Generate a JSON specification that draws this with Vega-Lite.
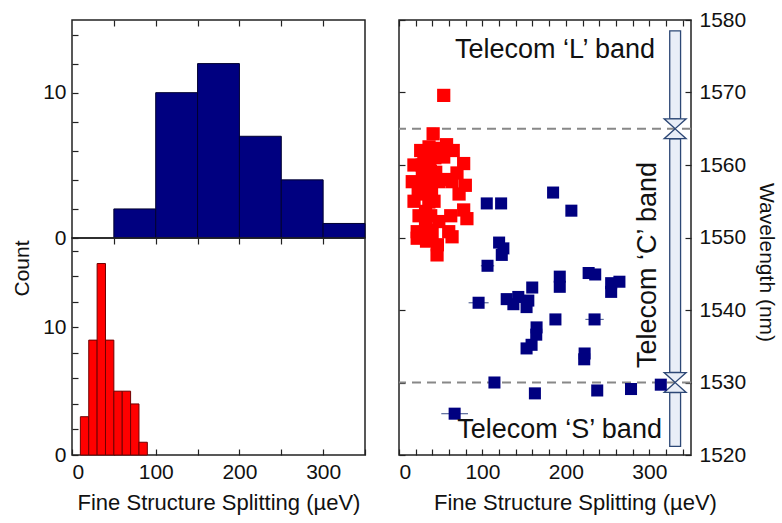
{
  "$schema": "https://vega.github.io/schema/vega-lite/v6.json",
  "background": "white",
  "padding": {"left": 10, "top": 8, "right": 5, "bottom": 5},
  "config": {
    "font": "Liberation Sans",
    "view": {"stroke": "#222", "strokeWidth": 1.5},
    "axis": {
      "labelFont": "Liberation Sans", "labelFontSize": 21, "labelColor": "#111",
      "titleFont": "Liberation Sans", "titleFontSize": 21, "titleFontWeight": "normal", "titleColor": "#111",
      "domain": false, "grid": false, "tickColor": "#222", "tickWidth": 1.2, "tickSize": -6, "labelPadding": 12
    }
  },
  "datasets": {
    "blueHist": [
      {"lo": 50, "hi": 100, "n": 2}, {"lo": 100, "hi": 150, "n": 10}, {"lo": 150, "hi": 200, "n": 12},
      {"lo": 200, "hi": 250, "n": 7}, {"lo": 250, "hi": 300, "n": 4}, {"lo": 300, "hi": 350, "n": 1}
    ],
    "redHist": [
      {"lo": 10, "hi": 20, "n": 3}, {"lo": 20, "hi": 30, "n": 9}, {"lo": 30, "hi": 40, "n": 15},
      {"lo": 40, "hi": 50, "n": 9}, {"lo": 50, "hi": 60, "n": 5}, {"lo": 60, "hi": 70, "n": 5},
      {"lo": 70, "hi": 80, "n": 4}, {"lo": 80, "hi": 90, "n": 1}
    ],
    "dots": [
      {"fss": 15.9, "wl": 1557.7, "grp": "red"}, {"fss": 17.9, "wl": 1560.0, "grp": "red"}, {"fss": 18.0, "wl": 1555.0, "grp": "red"},
      {"fss": 21.8, "wl": 1550.8, "grp": "red"}, {"fss": 21.8, "wl": 1549.9, "grp": "red"}, {"fss": 25.8, "wl": 1557.5, "grp": "red"},
      {"fss": 27.8, "wl": 1560.0, "grp": "red"}, {"fss": 29.8, "wl": 1561.4, "grp": "red"}, {"fss": 24.0, "wl": 1553.0, "grp": "red"},
      {"fss": 28.0, "wl": 1558.5, "grp": "red"}, {"fss": 26.0, "wl": 1562.0, "grp": "red"}, {"fss": 23.0, "wl": 1556.0, "grp": "red"},
      {"fss": 31.8, "wl": 1553.6, "grp": "red"}, {"fss": 31.8, "wl": 1551.7, "grp": "red"}, {"fss": 33.8, "wl": 1556.1, "grp": "red"},
      {"fss": 35.8, "wl": 1554.9, "grp": "red"}, {"fss": 37.7, "wl": 1559.1, "grp": "red"}, {"fss": 39.7, "wl": 1561.8, "grp": "red"},
      {"fss": 39.7, "wl": 1550.6, "grp": "red"}, {"fss": 34.0, "wl": 1558.0, "grp": "red"}, {"fss": 36.0, "wl": 1562.5, "grp": "red"},
      {"fss": 32.0, "wl": 1557.0, "grp": "red"}, {"fss": 38.0, "wl": 1553.0, "grp": "red"}, {"fss": 33.0, "wl": 1549.5, "grp": "red"},
      {"fss": 37.0, "wl": 1560.5, "grp": "red"}, {"fss": 35.0, "wl": 1551.0, "grp": "red"}, {"fss": 39.0, "wl": 1556.5, "grp": "red"},
      {"fss": 40.9, "wl": 1564.3, "grp": "red"}, {"fss": 45.6, "wl": 1547.6, "grp": "red"}, {"fss": 47.7, "wl": 1552.2, "grp": "red"},
      {"fss": 47.7, "wl": 1557.7, "grp": "red"}, {"fss": 49.7, "wl": 1562.3, "grp": "red"}, {"fss": 44.0, "wl": 1559.0, "grp": "red"},
      {"fss": 42.0, "wl": 1555.0, "grp": "red"}, {"fss": 46.0, "wl": 1549.0, "grp": "red"}, {"fss": 43.0, "wl": 1561.0, "grp": "red"},
      {"fss": 53.6, "wl": 1569.6, "grp": "red"}, {"fss": 53.6, "wl": 1561.1, "grp": "red"}, {"fss": 59.6, "wl": 1550.8, "grp": "red"},
      {"fss": 55.0, "wl": 1558.0, "grp": "red"}, {"fss": 57.0, "wl": 1562.8, "grp": "red"},
      {"fss": 63.6, "wl": 1557.7, "grp": "red"}, {"fss": 63.6, "wl": 1550.1, "grp": "red"}, {"fss": 69.5, "wl": 1558.9, "grp": "red"},
      {"fss": 65.0, "wl": 1562.0, "grp": "red"}, {"fss": 62.0, "wl": 1553.0, "grp": "red"},
      {"fss": 77.5, "wl": 1560.2, "grp": "red"}, {"fss": 77.5, "wl": 1553.8, "grp": "red"}, {"fss": 79.5, "wl": 1557.2, "grp": "red"},
      {"fss": 72.0, "wl": 1556.0, "grp": "red"}, {"fss": 81.4, "wl": 1552.6, "grp": "red"},
      {"fss": 105.2, "wl": 1554.7, "grp": "blue"}, {"fss": 122.4, "wl": 1554.7, "grp": "blue"}, {"fss": 184.7, "wl": 1556.2, "grp": "blue"},
      {"fss": 206.6, "wl": 1553.7, "grp": "blue"}, {"fss": 120.0, "wl": 1549.3, "grp": "blue"}, {"fss": 125.1, "wl": 1548.5, "grp": "blue"},
      {"fss": 123.2, "wl": 1547.6, "grp": "blue"}, {"fss": 106.1, "wl": 1546.1, "grp": "blue"}, {"fss": 192.7, "wl": 1544.6, "grp": "blue"},
      {"fss": 192.7, "wl": 1543.2, "grp": "blue"}, {"fss": 227.3, "wl": 1545.1, "grp": "blue"}, {"fss": 235.2, "wl": 1544.9, "grp": "blue"},
      {"fss": 254.3, "wl": 1543.7, "grp": "blue"}, {"fss": 264.2, "wl": 1543.9, "grp": "blue"}, {"fss": 254.3, "wl": 1542.5, "grp": "blue"},
      {"fss": 159.7, "wl": 1543.1, "grp": "blue"}, {"fss": 95.4, "wl": 1541.0, "grp": "blue"}, {"fss": 129.1, "wl": 1541.5, "grp": "blue"},
      {"fss": 143.0, "wl": 1541.8, "grp": "blue"}, {"fss": 137.1, "wl": 1540.8, "grp": "blue"}, {"fss": 152.9, "wl": 1540.4, "grp": "blue"},
      {"fss": 155.0, "wl": 1541.3, "grp": "blue"}, {"fss": 187.5, "wl": 1538.7, "grp": "blue"}, {"fss": 234.4, "wl": 1538.7, "grp": "blue"},
      {"fss": 164.9, "wl": 1537.6, "grp": "blue"}, {"fss": 164.5, "wl": 1536.6, "grp": "blue"}, {"fss": 158.9, "wl": 1535.2, "grp": "blue"},
      {"fss": 152.9, "wl": 1534.7, "grp": "blue"}, {"fss": 222.5, "wl": 1534.0, "grp": "blue"}, {"fss": 222.0, "wl": 1533.2, "grp": "blue"},
      {"fss": 114.4, "wl": 1530.0, "grp": "blue"}, {"fss": 162.9, "wl": 1528.5, "grp": "blue"}, {"fss": 237.6, "wl": 1528.9, "grp": "blue"},
      {"fss": 278.1, "wl": 1529.1, "grp": "blue"}, {"fss": 313.8, "wl": 1529.7, "grp": "blue"}, {"fss": 66.7, "wl": 1525.7, "grp": "blue"}
    ],
    "errs": [
      {"lo": 47.6, "hi": 59.6, "wl": 1569.6}, {"lo": 98.1, "hi": 114.1, "wl": 1546.1}, {"lo": 83.4, "hi": 107.4, "wl": 1541.0},
      {"lo": 146.9, "hi": 158.9, "wl": 1540.4}, {"lo": 223.4, "hi": 245.4, "wl": 1538.7}, {"lo": 50.7, "hi": 82.7, "wl": 1525.7},
      {"lo": 110.4, "hi": 118.4, "wl": 1530.0}, {"lo": 308.8, "hi": 318.8, "wl": 1529.7}, {"lo": 73.5, "hi": 81.5, "wl": 1553.8}
    ],
    "bands": [{"wl": 1565}, {"wl": 1530}],
    "shafts": [{"wl_lo": 1566.4, "wl_hi": 1578.5}, {"wl_lo": 1531.4, "wl_hi": 1563.6}, {"wl_lo": 1521.2, "wl_hi": 1528.6}],
    "heads": [{"wl": 1565, "dir": "down"}, {"wl": 1565, "dir": "up"}, {"wl": 1530, "dir": "down"}, {"wl": 1530, "dir": "up"}],
    "one": [{"k": 1}]
  },
  "spacing": 30,
  "hconcat": [
    {
      "spacing": 0,
      "bounds": "flush",
      "vconcat": [
        {
          "width": 293, "height": 218,
          "data": {"name": "blueHist"},
          "mark": {"type": "rect", "fill": "#000080", "stroke": "#000030", "strokeWidth": 1},
          "encoding": {
            "x": {"field": "lo", "type": "quantitative", "scale": {"domain": [0, 350], "nice": false, "zero": false},
                  "axis": {"orient": "top", "values": [50, 100, 150, 200, 250, 300], "labels": false, "title": null}},
            "x2": {"field": "hi"},
            "y": {"field": "n", "type": "quantitative", "scale": {"domain": [0, 15], "nice": false},
                  "axis": {"orient": "left", "values": [0, 2, 4, 6, 8, 10, 12, 14], "labelExpr": "datum.value % 10 === 0 ? datum.label : ''", "title": null}},
            "y2": {"datum": 0}
          }
        },
        {
          "width": 293, "height": 217,
          "data": {"name": "redHist"},
          "resolve": {"axis": {"x": "independent", "y": "independent"}},
          "layer": [
            {
              "mark": {"type": "rect", "fill": "#ff0000", "stroke": "#700000", "strokeWidth": 1},
              "encoding": {
                "x": {"field": "lo", "type": "quantitative", "scale": {"domain": [0, 350], "nice": false, "zero": false},
                      "axis": {"orient": "bottom", "values": [0, 50, 100, 150, 200, 250, 300, 350], "labelExpr": "datum.value % 100 === 0 ? datum.label : ''", "title": "Fine Structure Splitting (µeV)", "titleFontSize": 22, "titlePadding": 10}},
                "x2": {"field": "hi"},
                "y": {"field": "n", "type": "quantitative", "scale": {"domain": [0, 17], "nice": false},
                      "axis": {"orient": "left", "values": [0, 2, 4, 6, 8, 10, 12, 14, 16], "labelExpr": "datum.value % 10 === 0 ? datum.label : ''", "title": "Count", "titleY": 30, "titlePadding": 10}},
                "y2": {"datum": 0}
              }
            },
            {
              "mark": {"type": "rect", "opacity": 0},
              "encoding": {
                "x": {"field": "lo", "type": "quantitative",
                      "axis": {"orient": "top", "values": [50, 100, 150, 200, 250, 300], "labels": false, "title": null}},
                "x2": {"field": "hi"},
                "y": {"field": "n", "type": "quantitative", "axis": null},
                "y2": {"datum": 0}
              }
            }
          ]
        }
      ]
    },
    {
      "width": 292, "height": 435,
      "resolve": {"axis": {"x": "independent", "y": "independent"}},
      "layer": [
        {
          "data": {"name": "bands"},
          "mark": {"type": "rule", "color": "#888", "strokeWidth": 2, "strokeDash": [9, 6]},
          "encoding": {"y": {"field": "wl", "type": "quantitative", "axis": null}}
        },
        {
          "data": {"name": "shafts"},
          "mark": {"type": "rect", "fill": "#e9eef7", "stroke": "#2d4876", "strokeWidth": 1.3},
          "encoding": {
            "x": {"datum": 324.5, "type": "quantitative", "axis": null},
            "x2": {"datum": 337.5},
            "y": {"field": "wl_lo", "type": "quantitative", "axis": null},
            "y2": {"field": "wl_hi"}
          }
        },
        {
          "data": {"name": "heads"},
          "mark": {"type": "point", "filled": true, "fill": "#e9eef7", "stroke": "#2d4876", "strokeWidth": 1.3, "opacity": 1, "size": 484},
          "encoding": {
            "x": {"datum": 331, "type": "quantitative", "axis": null},
            "y": {"field": "wl", "type": "quantitative", "axis": null},
            "shape": {"field": "dir", "type": "nominal", "legend": null,
                      "scale": {"domain": ["down", "up"], "range": ["M0,0L-1,-0.9L1,-0.9Z", "M0,0L-1,0.9L1,0.9Z"]}}
          }
        },
        {
          "data": {"name": "errs"},
          "mark": {"type": "rule", "color": "#5a6a9a", "strokeWidth": 1.2},
          "encoding": {
            "x": {"field": "lo", "type": "quantitative", "axis": null},
            "x2": {"field": "hi"},
            "y": {"field": "wl", "type": "quantitative", "axis": null}
          }
        },
        {
          "data": {"name": "dots"},
          "mark": {"type": "square", "opacity": 1},
          "encoding": {
            "x": {"field": "fss", "type": "quantitative", "scale": {"domain": [0, 350], "nice": false, "zero": false},
                  "axis": {"orient": "bottom", "values": [0, 20, 40, 60, 80, 100, 120, 140, 160, 180, 200, 220, 240, 260, 280, 300, 320, 340], "labelExpr": "datum.value % 100 === 0 ? datum.label : ''", "title": "Fine Structure Splitting (µeV)", "titleFontSize": 22, "titlePadding": 10, "titleX": 176}},
            "y": {"field": "wl", "type": "quantitative", "scale": {"domain": [1520, 1580], "nice": false, "zero": false},
                  "axis": {"orient": "right", "values": [1520, 1530, 1540, 1550, 1560, 1570, 1580], "format": "d", "title": "Wavelength (nm)", "titlePadding": 10, "titleY": 242, "labelPadding": 14}},
            "color": {"field": "grp", "type": "nominal", "legend": null, "scale": {"domain": ["red", "blue"], "range": ["#ff0000", "#000080"]}},
            "size": {"field": "grp", "type": "nominal", "legend": null, "scale": {"domain": ["red", "blue"], "range": [175, 145]}}
          }
        },
        {
          "data": {"name": "dots"},
          "mark": {"type": "square", "opacity": 0},
          "encoding": {
            "x": {"field": "fss", "type": "quantitative",
                  "axis": {"orient": "top", "values": [0, 20, 40, 60, 80, 100, 120, 140, 160, 180, 200, 220, 240, 260, 280, 300, 320, 340], "labels": false, "title": null}},
            "y": {"field": "wl", "type": "quantitative",
                  "axis": {"orient": "left", "values": [1520, 1530, 1540, 1550, 1560, 1570, 1580], "labels": false, "title": null}}
          }
        },
        {
          "data": {"name": "one"},
          "mark": {"type": "text", "text": "Telecom ‘L’ band", "fontSize": 27, "font": "Liberation Sans", "color": "#111", "align": "center", "baseline": "middle"},
          "encoding": {"x": {"datum": 187, "type": "quantitative", "axis": null}, "y": {"datum": 1575.9, "type": "quantitative", "axis": null}}
        },
        {
          "data": {"name": "one"},
          "mark": {"type": "text", "text": "Telecom ‘S’ band", "fontSize": 27, "font": "Liberation Sans", "color": "#111", "align": "center", "baseline": "middle"},
          "encoding": {"x": {"datum": 192.5, "type": "quantitative", "axis": null}, "y": {"datum": 1523.4, "type": "quantitative", "axis": null}}
        },
        {
          "data": {"name": "one"},
          "mark": {"type": "text", "text": "Telecom ‘C’ band", "fontSize": 27, "font": "Liberation Sans", "color": "#111", "align": "center", "baseline": "middle", "angle": 270},
          "encoding": {"x": {"datum": 298, "type": "quantitative", "axis": null}, "y": {"datum": 1546.2, "type": "quantitative", "axis": null}}
        }
      ]
    }
  ]
}
